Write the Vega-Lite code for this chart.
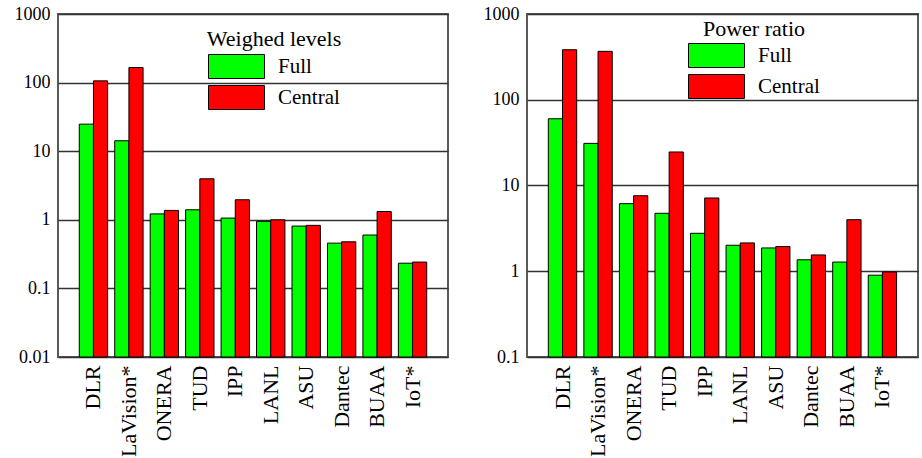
{
  "$schema": "https://vega.github.io/schema/vega-lite/v6.json",
  "padding": {"left": 13, "top": 4, "right": 0, "bottom": 0},
  "background": "#ffffff",
  "config": {
    "font": "Liberation Serif, serif",
    "view": {"stroke": "#5a5a5a", "strokeWidth": 2},
    "axis": {"labelFont": "Liberation Serif, serif", "labelColor": "#000000"},
    "legend": {
      "labelFont": "Liberation Serif, serif", "labelFontSize": 21, "labelColor": "#000000",
      "titleFont": "Liberation Serif, serif", "titleFontSize": 22, "titleFontWeight": "normal", "titleColor": "#000000",
      "padding": 0
    }
  },
  "datasets": {
    "levels": [
      {"lab": "DLR", "series": "Full", "value": 24.8}, {"lab": "DLR", "series": "Central", "value": 106},
      {"lab": "LaVision*", "series": "Full", "value": 14.2}, {"lab": "LaVision*", "series": "Central", "value": 166},
      {"lab": "ONERA", "series": "Full", "value": 1.22}, {"lab": "ONERA", "series": "Central", "value": 1.37},
      {"lab": "TUD", "series": "Full", "value": 1.4}, {"lab": "TUD", "series": "Central", "value": 3.96},
      {"lab": "IPP", "series": "Full", "value": 1.06}, {"lab": "IPP", "series": "Central", "value": 1.96},
      {"lab": "LANL", "series": "Full", "value": 0.95}, {"lab": "LANL", "series": "Central", "value": 1.0},
      {"lab": "ASU", "series": "Full", "value": 0.81}, {"lab": "ASU", "series": "Central", "value": 0.83},
      {"lab": "Dantec", "series": "Full", "value": 0.457}, {"lab": "Dantec", "series": "Central", "value": 0.478},
      {"lab": "BUAA", "series": "Full", "value": 0.6}, {"lab": "BUAA", "series": "Central", "value": 1.32},
      {"lab": "IoT*", "series": "Full", "value": 0.233}, {"lab": "IoT*", "series": "Central", "value": 0.242}
    ],
    "power": [
      {"lab": "DLR", "series": "Full", "value": 60}, {"lab": "DLR", "series": "Central", "value": 383},
      {"lab": "LaVision*", "series": "Full", "value": 31}, {"lab": "LaVision*", "series": "Central", "value": 367},
      {"lab": "ONERA", "series": "Full", "value": 6.14}, {"lab": "ONERA", "series": "Central", "value": 7.6},
      {"lab": "TUD", "series": "Full", "value": 4.74}, {"lab": "TUD", "series": "Central", "value": 24.6},
      {"lab": "IPP", "series": "Full", "value": 2.77}, {"lab": "IPP", "series": "Central", "value": 7.15},
      {"lab": "LANL", "series": "Full", "value": 2.01}, {"lab": "LANL", "series": "Central", "value": 2.14},
      {"lab": "ASU", "series": "Full", "value": 1.87}, {"lab": "ASU", "series": "Central", "value": 1.94},
      {"lab": "Dantec", "series": "Full", "value": 1.36}, {"lab": "Dantec", "series": "Central", "value": 1.55},
      {"lab": "BUAA", "series": "Full", "value": 1.28}, {"lab": "BUAA", "series": "Central", "value": 3.99},
      {"lab": "IoT*", "series": "Full", "value": 0.9}, {"lab": "IoT*", "series": "Central", "value": 0.98}
    ]
  },
  "spacing": 33,
  "resolve": {"legend": {"color": "independent"}},
  "hconcat": [
    {
      "width": 390, "height": 343,
      "data": {"name": "levels"},
      "mark": {"type": "bar", "stroke": "#000000", "strokeWidth": 1},
      "encoding": {
        "x": {"field": "lab", "type": "nominal",
          "sort": ["DLR", "LaVision*", "ONERA", "TUD", "IPP", "LANL", "ASU", "Dantec", "BUAA", "IoT*"],
          "scale": {"paddingInner": 0.2, "paddingOuter": 0.6},
          "axis": {"title": null, "labelAngle": -90, "labelFont": "Liberation Serif, serif", "labelFontSize": 22, "labelPadding": 8, "ticks": false, "domain": false}},
        "xOffset": {"field": "series", "type": "nominal", "sort": ["Full", "Central"]},
        "y": {"field": "value", "type": "quantitative",
          "scale": {"type": "log", "domain": [0.01, 1000], "nice": false},
          "axis": {"title": null, "values": [0.01, 0.1, 1, 10, 100, 1000], "format": "~g", "grid": true, "gridColor": "#333333", "gridOpacity": 1, "gridWidth": 1.5, "ticks": false, "domain": false, "labelFont": "Liberation Serif, serif", "labelFontSize": 18, "labelPadding": 8}},
        "y2": {"datum": 0.01},
        "color": {"field": "series", "type": "nominal", "sort": ["Full", "Central"],
          "scale": {"domain": ["Full", "Central"], "range": ["#00ff00", "#ff0000"]},
          "legend": {"title": "Weighed levels", "orient": "none", "legendX": 149, "legendY": 15,
            "titleAnchor": "middle", "titlePadding": 3, "rowPadding": 2,
            "symbolType": "M-2.333,-1H2.333V1H-2.333Z", "symbolSize": 576, "symbolOffset": 16, "labelOffset": 29,
            "symbolStrokeColor": "#000000", "symbolStrokeWidth": 1, "symbolOpacity": 1}}
      }
    },
    {
      "width": 391, "height": 343,
      "data": {"name": "power"},
      "mark": {"type": "bar", "stroke": "#000000", "strokeWidth": 1},
      "encoding": {
        "x": {"field": "lab", "type": "nominal",
          "sort": ["DLR", "LaVision*", "ONERA", "TUD", "IPP", "LANL", "ASU", "Dantec", "BUAA", "IoT*"],
          "scale": {"paddingInner": 0.2, "paddingOuter": 0.6},
          "axis": {"title": null, "labelAngle": -90, "labelFont": "Liberation Serif, serif", "labelFontSize": 22, "labelPadding": 8, "ticks": false, "domain": false}},
        "xOffset": {"field": "series", "type": "nominal", "sort": ["Full", "Central"]},
        "y": {"field": "value", "type": "quantitative",
          "scale": {"type": "log", "domain": [0.1, 1000], "nice": false},
          "axis": {"title": null, "values": [0.1, 1, 10, 100, 1000], "format": "~g", "grid": true, "gridColor": "#333333", "gridOpacity": 1, "gridWidth": 1.5, "ticks": false, "domain": false, "labelFont": "Liberation Serif, serif", "labelFontSize": 18, "labelPadding": 8}},
        "y2": {"datum": 0.1},
        "color": {"field": "series", "type": "nominal", "sort": ["Full", "Central"],
          "scale": {"domain": ["Full", "Central"], "range": ["#00ff00", "#ff0000"]},
          "legend": {"title": "Power ratio", "orient": "none", "legendX": 161, "legendY": 5,
            "titleAnchor": "middle", "titlePadding": 2, "rowPadding": 2,
            "symbolType": "M-2.333,-1H2.333V1H-2.333Z", "symbolSize": 576, "symbolOffset": 16, "labelOffset": 29,
            "symbolStrokeColor": "#000000", "symbolStrokeWidth": 1, "symbolOpacity": 1}}
      }
    }
  ]
}
